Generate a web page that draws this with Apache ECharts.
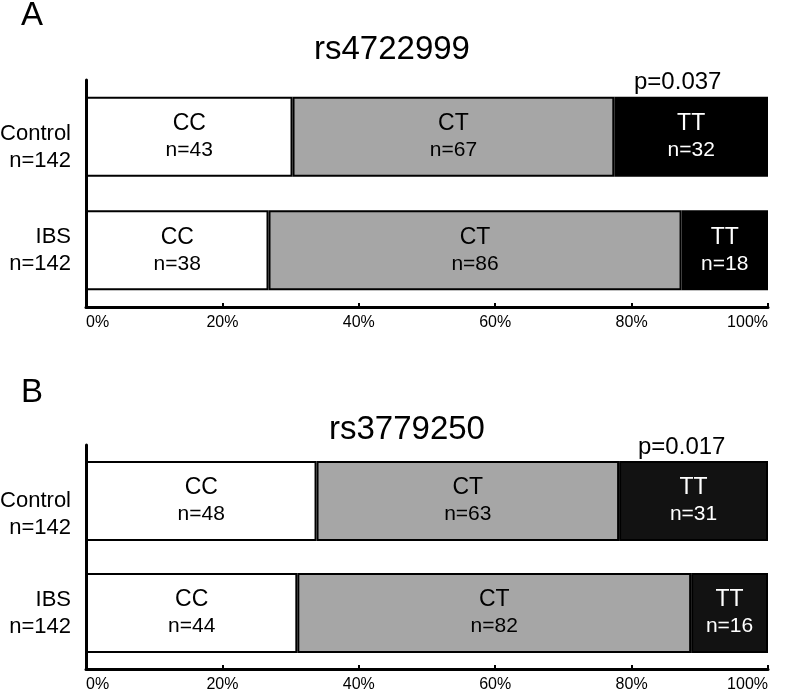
<!DOCTYPE html>
<html>
<head>
<meta charset="utf-8">
<script src="https://cdn.jsdelivr.net/npm/echarts@6/dist/echarts.min.js"></script>
<style>html,body{margin:0;padding:0;background:#fff}#c{width:785px;height:694px}</style>
</head>
<body>
<div id="c"></div>
<script>
const groups = ['Control\nn=142', 'IBS\nn=142'];
const genotypes = ['CC', 'CT', 'TT'];
const totals = [142, 142];
const snpA = 'rs4722999';
const snpB = 'rs3779250';
const pA = 'p=0.037';
const pB = 'p=0.017';
const countsA_CC = [43, 38];
const countsA_CT = [67, 86];
const countsA_TT = [32, 18];
const countsB_CC = [48, 44];
const countsB_CT = [63, 82];
const countsB_TT = [31, 16];
const tickLabels = ['0%', '20%', '40%', '60%', '80%', '100%'];

const FONT = '"Liberation Sans", Arial, Helvetica, sans-serif';
const fillsA = { CC: '#ffffff', CT: '#a6a6a6', TT: '#000000' };
const fillsB = { CC: '#ffffff', CT: '#a6a6a6', TT: '#121212' };
const textCols = { CC: '#000', CT: '#000', TT: '#fff' };

function mkSeries(idx, name, counts, fills) {
  return {
    type: 'bar', name: name, stack: 's' + idx,
    xAxisIndex: idx, yAxisIndex: idx,
    barWidth: 80,
    data: counts.map((n, i) => ({ value: n / totals[i] * 100, n: n })),
    itemStyle: { color: fills[name], borderColor: '#000', borderWidth: 2 },
    label: {
      show: true, position: 'inside',
      formatter: p => '{g|' + name + '}\n{n|n=' + p.data.n + '}',
      rich: {
        g: { fontSize: 23, fontFamily: FONT, color: textCols[name], lineHeight: 27 },
        n: { fontSize: 21, fontFamily: FONT, color: textCols[name], lineHeight: 26 }
      }
    },
    emphasis: { disabled: true }
  };
}

function mkX(idx) {
  return {
    type: 'value', gridIndex: idx, min: 0, max: 100, interval: 20,
    axisLine: { show: true, lineStyle: { color: '#000', width: 3 } },
    axisTick: { show: true, inside: true, length: 4, lineStyle: { color: '#000', width: 2 } },
    splitLine: { show: false },
    axisLabel: {
      color: '#000', fontSize: 16, fontFamily: FONT, margin: 8,
      alignMinLabel: 'left', alignMaxLabel: 'right',
      formatter: v => tickLabels[Math.round(v / 20)]
    }
  };
}
function mkY(idx, shift) {
  return {
    type: 'category', gridIndex: idx, data: groups, inverse: true,
    axisLine: { show: true, lineStyle: { color: '#000', width: 3 } },
    axisTick: { show: false },
    axisLabel: {
      margin: 15, align: 'right',
      formatter: (v, i) => {
        const lines = v.split('\n').map(s => '{t|' + s + '}');
        return (i === 0 ? '{sp| }\n' : '') + lines.join('\n');
      },
      rich: {
        t: { color: '#000', fontSize: 22, fontFamily: FONT, lineHeight: 27, align: 'right' },
        sp: { fontSize: 10, lineHeight: shift, align: 'right' }
      }
    }
  };
}

const chart = echarts.init(document.getElementById('c'));
const T = (text, left, top, fs) => ({ text: text, left: left, top: top, textStyle: { fontSize: fs, fontWeight: 'normal', fontFamily: FONT, color: '#000' } });
chart.setOption({
  backgroundColor: '#fff',
  animation: false,
  title: [
    T('A', 16, -6, 33),
    T(snpA, 309, 28, 33),
    T(pA, 629, 65, 24),
    T('B', 16, 371, 33),
    T(snpB, 324, 408, 33),
    T(pB, 633, 430, 24)
  ],
  grid: [
    { left: 86, right: 17, top: 80, height: 227, outerBoundsMode: 'none', containLabel: false },
    { left: 86, right: 17, top: 445, height: 224, outerBoundsMode: 'none', containLabel: false }
  ],
  xAxis: [mkX(0), mkX(1)],
  yAxis: [mkY(0, 21), mkY(1, 27)],
  series: [
    mkSeries(0, 'CC', countsA_CC, fillsA), mkSeries(0, 'CT', countsA_CT, fillsA), mkSeries(0, 'TT', countsA_TT, fillsA),
    mkSeries(1, 'CC', countsB_CC, fillsB), mkSeries(1, 'CT', countsB_CT, fillsB), mkSeries(1, 'TT', countsB_TT, fillsB)
  ]
});
</script>
</body>
</html>
